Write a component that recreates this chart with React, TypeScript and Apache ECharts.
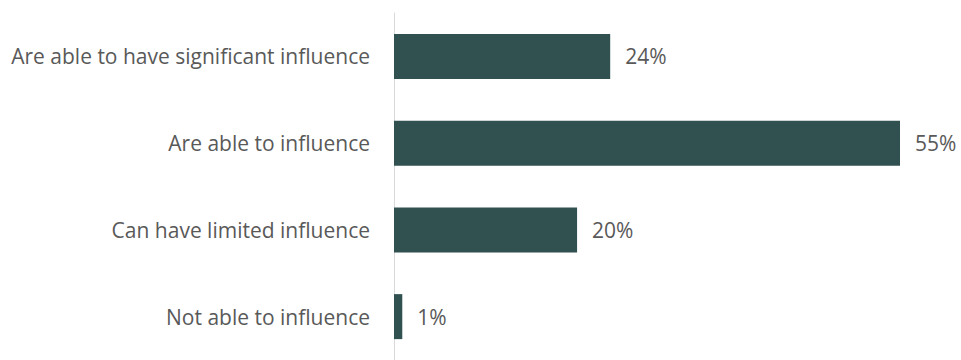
import React, { useEffect, useRef } from "react";
import * as echarts from "echarts";

const categories = [
  "Are able to have significant influence",
  "Are able to influence",
  "Can have limited influence",
  "Not able to influence",
];
const values = [23.5, 55, 19.9, 0.9];

export default function App() {
  const ref = useRef<HTMLDivElement>(null);
  useEffect(() => {
    if (!ref.current) return;
    const chart = echarts.init(ref.current, null, { renderer: "svg" });
    chart.setOption({
      animation: false,
      grid: { left: 394, top: 13, height: 352, width: 552, containLabel: false },
      xAxis: {
        type: "value",
        min: 0,
        max: 60,
        show: false,
      },
      yAxis: {
        type: "category",
        data: categories,
        inverse: true,
        axisLine: { show: true, lineStyle: { color: "#d9d9d9", width: 1 } },
        axisTick: { show: false },
        axisLabel: {
          margin: 24,
          color: "#595959",
          fontSize: 21,
          fontFamily: "Open Sans",
        },
      },
      series: [
        {
          type: "bar",
          data: values,
          barWidth: 45,
          itemStyle: { color: "#30514f" },
          label: {
            show: true,
            position: "right",
            distance: 15,
            color: "#595959",
            fontSize: 21,
            fontFamily: "Open Sans",
            formatter: (p: any) => Math.round(p.value) + "%",
          },
        },
      ],
    });
    return () => chart.dispose();
  }, []);
  return <div ref={ref} style={{ width: 961, height: 360, position: "absolute", left: 0, top: 0 }} />;
}
